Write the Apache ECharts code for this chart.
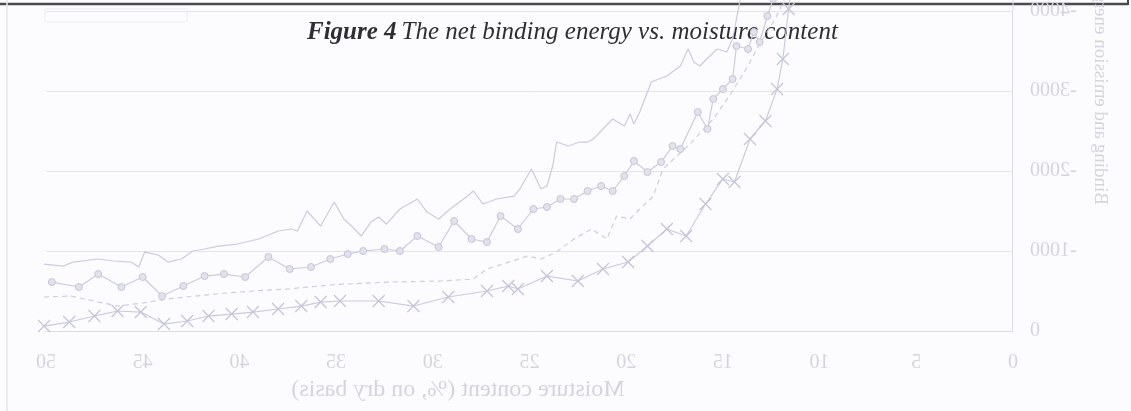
<!DOCTYPE html>
<html>
<head>
<meta charset="utf-8">
<script src="https://cdn.jsdelivr.net/npm/echarts@6/dist/echarts.min.js"></script>
<style>
  html, body { margin: 0; padding: 0; background: #fcfcfe; }
  #wrap { position: relative; width: 1131px; height: 411px; background: #fcfcfe; overflow: hidden; }
  #back, #mirror { position: absolute; left: 0; top: 0; width: 1131px; height: 411px; }
  #mirror { transform: scaleX(-1); }
</style>
</head>
<body>
<div id="wrap">
  <div id="back"></div>
  <div id="mirror"></div>
</div>
<script>
// ---- data (moisture content %, net binding energy J/mol) ----
const xTicks = [0, 5, 10, 15, 20, 25, 30, 35, 40, 45, 50];
const yTicks = [0, -1000, -2000, -3000, -4000];

const seriesPlain = [[50.1,-837],[49.1,-812],[48.6,-862],[47.3,-900],[46.5,-875],[45.6,-862],[45.2,-800],[44.9,-987],[44.2,-950],[43.7,-862],[43.0,-900],[42.4,-1000],[41.8,-1025],[41.1,-1062],[40.1,-1087],[39.0,-1150],[38.0,-1250],[37.3,-1275],[37.0,-1250],[36.5,-1500],[35.8,-1312],[35.1,-1612],[34.6,-1400],[34.2,-1312],[33.7,-1187],[33.2,-1362],[32.8,-1425],[32.4,-1337],[31.7,-1525],[30.8,-1650],[30.3,-1487],[29.7,-1400],[29.1,-1525],[28.2,-1687],[27.9,-1750],[27.4,-1587],[26.7,-1650],[25.8,-1687],[25.5,-1775],[24.9,-2025],[24.4,-1775],[24.1,-1812],[23.8,-2062],[23.6,-2362],[23.0,-2312],[22.4,-2362],[22.0,-2362],[21.7,-2400],[21.2,-2525],[20.7,-2650],[20.1,-2562],[19.8,-2712],[19.6,-2587],[19.3,-2737],[18.7,-3112],[17.9,-3187],[17.2,-3312],[16.8,-3525],[16.5,-3362],[16.2,-3312],[15.3,-3525],[14.8,-3487],[14.5,-3650],[14.1,-4150],[13.7,-4700]];

const seriesCircle = [[49.7,-612],[48.3,-550],[47.3,-712],[46.1,-550],[45.0,-675],[44.0,-437],[42.9,-562],[41.8,-687],[40.8,-712],[39.7,-675],[38.5,-925],[37.4,-775],[36.3,-800],[35.3,-900],[34.4,-962],[33.6,-1000],[32.5,-1025],[31.7,-1000],[30.8,-1187],[29.7,-1050],[28.9,-1375],[28.0,-1150],[27.2,-1112],[26.5,-1437],[25.6,-1275],[24.8,-1525],[24.1,-1550],[23.4,-1650],[22.7,-1650],[22.0,-1750],[21.3,-1812],[20.7,-1750],[20.1,-1937],[19.6,-2125],[18.9,-1987],[18.2,-2112],[17.6,-2312],[17.2,-2275],[16.3,-2737],[15.8,-2525],[15.5,-2900],[15.0,-3025],[14.5,-3150],[14.3,-3562],[13.7,-3525],[13.4,-3737],[13.1,-3612],[12.7,-3937],[12.4,-4150],[12.0,-4700]];

const seriesDashed = [[50.1,-425],[48.7,-437],[47.3,-362],[46.3,-312],[45.0,-350],[43.7,-400],[41.3,-462],[39.3,-500],[37.5,-525],[35.1,-580],[32.2,-612],[29.6,-625],[27.9,-650],[27.2,-775],[25.1,-937],[24.4,-900],[23.6,-987],[22.7,-1150],[21.8,-1275],[21.0,-1150],[20.5,-1437],[19.8,-1400],[19.3,-1525],[18.6,-1687],[18.1,-2025],[16.7,-2337],[15.5,-2650],[14.6,-2962],[13.8,-3275],[13.1,-3587],[12.3,-3900],[11.8,-4150],[11.4,-4700]];

const seriesCross = [[50.1,-62],[48.8,-112],[47.5,-187],[46.3,-250],[45.1,-237],[43.9,-87],[42.7,-125],[41.6,-187],[40.4,-212],[39.3,-237],[38.0,-275],[36.8,-312],[35.8,-362],[34.8,-375],[32.8,-375],[31.0,-312],[29.2,-425],[27.2,-500],[26.1,-562],[25.6,-525],[24.1,-687],[22.5,-625],[21.2,-775],[19.9,-862],[18.9,-1062],[17.9,-1275],[16.9,-1187],[15.9,-1587],[15.0,-1900],[14.4,-1862],[13.6,-2400],[12.8,-2625],[12.2,-3025],[11.9,-3400],[11.6,-4025],[11.3,-4600]];

const titleMain = 'Figure 4';
const titleRest = 'The net binding energy vs. moisture content';
const xName = 'Moisture content (%, on dry basis)';
const yName = 'Binding and emission energy (J/mol)';

// ---- front (unmirrored) layer: caption and page marks ----
const back = echarts.init(document.getElementById('back'));
back.setOption({
  backgroundColor: 'transparent',
  title: {
    left: 302,
    top: 15,
    text: '{b|' + titleMain + '} {i|' + titleRest + '}',
    textStyle: {
      fontWeight: 'normal',
      rich: {
        b: { fontFamily: 'Liberation Serif', fontStyle: 'italic', fontWeight: 'bold', fontSize: 25, color: '#2f2f33' },
        i: { fontFamily: 'Liberation Serif', fontStyle: 'italic', fontWeight: 'normal', fontSize: 25, color: '#2f2f33' }
      }
    }
  },
  graphic: [
    { type: 'line', shape: { x1: 0, y1: 4, x2: 1128, y2: 4 }, style: { stroke: '#4a4a4e', lineWidth: 2.5 } },
    { type: 'line', shape: { x1: 1128, y1: 0, x2: 1128, y2: 5 }, style: { stroke: '#4a4a4e', lineWidth: 2 } },
    { type: 'line', shape: { x1: 7, y1: 0, x2: 7, y2: 411 }, style: { stroke: '#e6e6ec', lineWidth: 1.5 } },
    { type: 'rect', shape: { x: 45, y: 9, width: 142, height: 13 }, style: { fill: 'none', stroke: '#ececf3', lineWidth: 1 } }
  ]
});

// ---- mirrored layer: the show-through chart ----
const lineColor = '#cbcbde';
const labelColor = '#d4d4df';
const chart = echarts.init(document.getElementById('mirror'));
chart.setOption({
  backgroundColor: 'transparent',
  animation: false,
  grid: { left: 118, right: 46, top: 11, bottom: 80, outerBoundsMode: 'none', containLabel: false },
  xAxis: {
    type: 'value', min: 0, max: 50, interval: 5,
    axisLine: { lineStyle: { color: '#dcdce7', width: 1 } },
    axisTick: { show: false },
    splitLine: { show: false },
    axisLabel: { color: labelColor, fontFamily: 'Liberation Serif', fontSize: 20, margin: 22 },
    name: xName, nameLocation: 'middle', nameGap: 38,
    nameTextStyle: { color: labelColor, fontFamily: 'Liberation Serif', fontSize: 24, padding: [0, 0, 0, 143] }
  },
  yAxis: {
    type: 'value', inverse: true, min: -4000, max: 0, interval: 1000,
    axisLine: { show: true, lineStyle: { color: '#dcdce7', width: 1 } },
    axisTick: { show: false },
    splitLine: { lineStyle: { color: '#e4e4ef', width: 1 } },
    axisLabel: { color: labelColor, fontFamily: 'Liberation Serif', fontSize: 20, margin: 17,
      formatter: v => String(v) }
  },
  graphic: [
    { type: 'line', shape: { x1: 118, y1: 0, x2: 118, y2: 11 }, style: { stroke: '#dcdce7', lineWidth: 1 } },
    { type: 'text', x: 31, y: 205, rotation: Math.PI / 2,
      style: { text: yName, fill: labelColor, font: '19px "Liberation Serif"', align: 'left', verticalAlign: 'middle' } }
  ],
  series: [
    { type: 'line', data: seriesPlain, showSymbol: false, clip: false,
      lineStyle: { color: lineColor, width: 1.2 } },
    { type: 'line', data: seriesCircle, symbol: 'circle', symbolSize: 7, clip: false,
      lineStyle: { color: lineColor, width: 1.2 },
      itemStyle: { color: '#e2e2ed', borderColor: '#c4c4d8', borderWidth: 1 } },
    { type: 'line', data: seriesDashed, showSymbol: false, clip: false,
      lineStyle: { color: '#cdcddf', width: 1.2, type: [5, 4] } },
    { type: 'line', data: seriesCross, symbol: 'path://M0,0L10,10M10,0L0,10', symbolSize: 12, clip: false,
      lineStyle: { color: lineColor, width: 1.2 },
      itemStyle: { color: 'none', borderColor: '#c4c4d8', borderWidth: 1.2 } }
  ]
});
</script>
</body>
</html>
